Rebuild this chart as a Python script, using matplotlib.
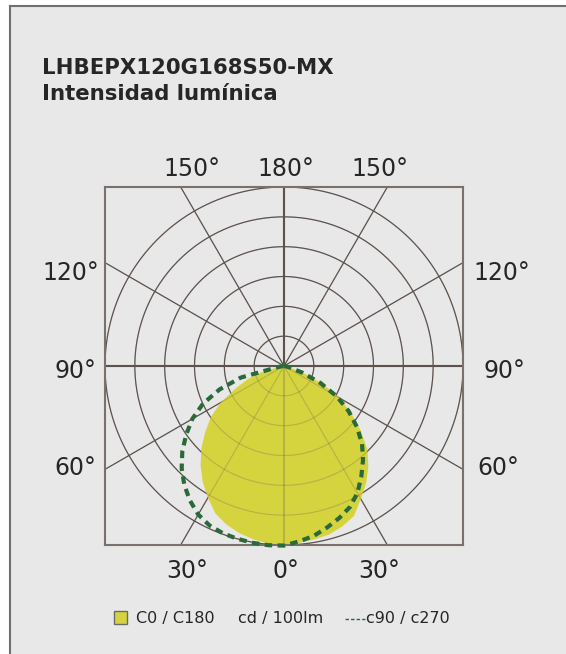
import numpy as np
import matplotlib.pyplot as plt
from matplotlib.patches import Rectangle
from matplotlib.lines import Line2D

# photometric data, gamma angle from nadir (deg) and cd/100lm in grid units
gamma = [0, 5, 10, 15, 20, 25, 30, 35, 40, 45, 50, 55, 60, 65, 70, 75, 80, 85, 90]
c0 = [6.0, 5.95, 5.9, 5.85, 5.72, 5.55, 5.15, 4.8, 4.4, 3.95, 3.35, 2.75, 2.15, 1.45, 0.7, 0.2, 0.08, 0.03, 0.0]
c180 = [6.0, 5.98, 5.9, 5.8, 5.65, 5.45, 5.1, 4.75, 4.35, 3.92, 3.45, 3.0, 2.45, 1.8, 1.3, 0.75, 0.15, 0.05, 0.0]
c90 = [6.02, 5.9, 5.78, 5.6, 5.42, 5.22, 4.92, 4.52, 4.12, 3.7, 3.2, 2.65, 2.05, 1.35, 0.65, 0.2, 0.05, 0.02, 0.0]
c270 = [6.03, 6.03, 6.02, 6.0, 5.97, 5.9, 5.75, 5.5, 5.2, 4.85, 4.45, 4.0, 3.55, 3.0, 2.3, 1.5, 0.2, 0.05, 0.0]

rings = [1, 2, 3, 4, 5, 6]
spokes = [0, 30, 60, 90, 120, 150]
# label text and position (x, y in grid units)
angle_labels = ["150°", "180°", "150°", "120°", "120°", "90°", "90°", "60°", "60°", "30°", "0°", "30°"]
label_x = [-3.1, 0.05, 3.2, -7.15, 7.3, -7.0, 7.4, -7.0, 7.2, -3.25, 0.05, 3.2]
label_y = [6.6, 6.6, 6.6, 3.12, 3.12, -0.17, -0.17, -3.42, -3.42, -6.87, -6.87, -6.87]

bg = "#e8e8e8"
grid_col = "#5c514c"
yellow = "#d5d43f"
green = "#2a6a38"
txt = "#262626"

plt.rcParams['font.family'] = ['DejaVu Sans']

fig = plt.figure(figsize=(5.66, 6.54), dpi=100)
fig.patch.set_facecolor("white")

# panel background and border (top and left only)
fig.patches.append(Rectangle((10 / 566, 0), 1, 1 - 6 / 654, transform=fig.transFigure,
                             facecolor=bg, edgecolor="none", zorder=-5))
fig.lines.append(Line2D([10 / 566, 1], [1 - 6 / 654, 1 - 6 / 654], transform=fig.transFigure,
                        color="#707070", lw=1.5, zorder=-4))
fig.lines.append(Line2D([10 / 566, 10 / 566], [0, 1 - 6 / 654], transform=fig.transFigure,
                        color="#707070", lw=1.5, zorder=-4))

fig.text(42 / 566, 1 - 74 / 654, "LHBEPX120G168S50-MX", fontsize=15.3, fontweight="bold",
         color=txt, va="baseline")
fig.text(42 / 566, 1 - 100 / 654, "Intensidad lumínica", fontsize=15.3, fontweight="semibold",
         color=txt, va="baseline")

ax = fig.add_axes([105 / 566, 109 / 654, 358 / 566, 358 / 654])
ax.set_facecolor(bg)
ax.set_xlim(-6, 6)
ax.set_ylim(-6, 6)
ax.set_aspect("equal")
ax.set_xticks([])
ax.set_yticks([])
for s in ax.spines.values():
    s.set_color("#7a706c")
    s.set_linewidth(1.5)


def draw_grid(zorder, alpha):
    t = np.linspace(0, 2 * np.pi, 400)
    for r in rings:
        ax.plot(r * np.cos(t), r * np.sin(t), color=grid_col, lw=0.85, zorder=zorder, alpha=alpha)
    # spokes, clipped by the frame
    for a in spokes:
        th = np.radians(a)
        L = 12
        lw = 1.5 if a in (0, 90) else 0.85
        ax.plot([-L * np.sin(th), L * np.sin(th)], [-L * np.cos(th), L * np.cos(th)],
                color=grid_col, lw=lw, zorder=zorder, alpha=alpha)


draw_grid(1, 1.0)

g = np.radians(gamma)
# C0 / C180 fill: C0 to the right, C180 to the left
xr = np.array(c0) * np.sin(g)
yr = -np.array(c0) * np.cos(g)
xl = -np.array(c180) * np.sin(g)
yl = -np.array(c180) * np.cos(g)
fx = np.concatenate([xr[::-1], xl[1:]])
fy = np.concatenate([yr[::-1], yl[1:]])
ax.fill(fx, fy, color=yellow, lw=0, zorder=2)

# grid seen faintly through the fill
draw_grid(2.5, 0.25)

# C90 / C270 dashed
xr2 = np.array(c90) * np.sin(g)
yr2 = -np.array(c90) * np.cos(g)
xl2 = -np.array(c270) * np.sin(g)
yl2 = -np.array(c270) * np.cos(g)
dx = np.concatenate([xr2[::-1], xl2[1:]])
dy = np.concatenate([yr2[::-1], yl2[1:]])
ax.plot(dx, dy, color=green, lw=3.0, ls=(0, (1.8, 1.3)), zorder=3, clip_on=False)

for lab, x, y in zip(angle_labels, label_x, label_y):
    ax.text(x, y, lab, fontsize=17, color=txt, ha="center", va="center", clip_on=False)

# legend
fig.patches.append(Rectangle((114 / 566, 1 - 624 / 654), 13 / 566, 13 / 654, transform=fig.transFigure,
                             facecolor=yellow, edgecolor="#6a6a6a", lw=1))
fig.text(136 / 566, 1 - 618 / 654, "C0 / C180", fontsize=11.5, color=txt, va="center")
fig.text(238 / 566, 1 - 618 / 654, "cd / 100lm", fontsize=11.5, color=txt, va="center")
fig.lines.append(Line2D([345 / 566, 365 / 566], [1 - 619 / 654, 1 - 619 / 654], transform=fig.transFigure,
                        color=green, lw=1, ls=(0, (2.5, 1.5))))
fig.text(366 / 566, 1 - 618 / 654, "c90 / c270", fontsize=11.5, color=txt, va="center")

fig.savefig("out.png", dpi=100, facecolor=fig.get_facecolor())
